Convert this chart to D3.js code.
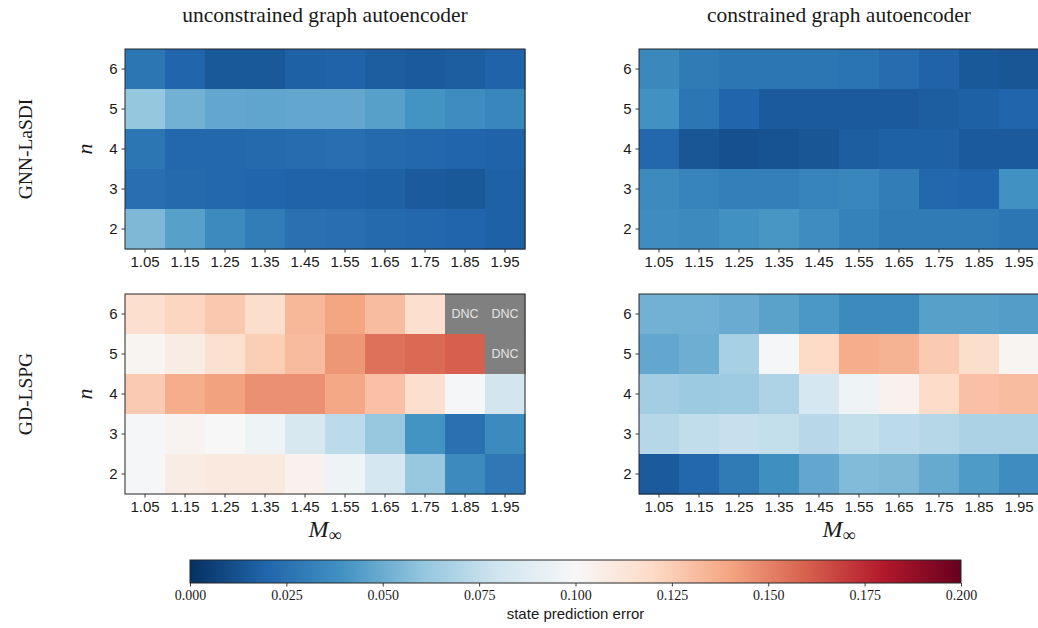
<!DOCTYPE html>
<html>
<head>
<meta charset="utf-8">
<script src="https://cdn.jsdelivr.net/npm/d3@7/dist/d3.min.js"></script>
<style>
  html, body { margin: 0; padding: 0; background: #fff; }
  svg { display: block; }
</style>
</head>
<body>
<svg id="chart" width="1038" height="628"></svg>
<script>
// Free-stream Mach numbers (columns) and polytropic index n (rows, top to bottom)
const machValues = ["1.05", "1.15", "1.25", "1.35", "1.45", "1.55", "1.65", "1.75", "1.85", "1.95"];
const nValues = [6, 5, 4, 3, 2];

// State prediction error, rows ordered n = 6, 5, 4, 3, 2; null = did not converge
const gnnUnconstrained = [
  [0.027, 0.020, 0.015, 0.015, 0.018, 0.019, 0.017, 0.016, 0.017, 0.019],
  [0.061, 0.052, 0.048, 0.047, 0.048, 0.048, 0.045, 0.040, 0.037, 0.034],
  [0.027, 0.021, 0.021, 0.022, 0.023, 0.024, 0.022, 0.021, 0.020, 0.019],
  [0.024, 0.022, 0.021, 0.020, 0.019, 0.019, 0.018, 0.016, 0.015, 0.018],
  [0.055, 0.045, 0.036, 0.030, 0.025, 0.024, 0.022, 0.021, 0.020, 0.018]
];
const gnnConstrained = [
  [0.035, 0.029, 0.027, 0.027, 0.027, 0.026, 0.023, 0.019, 0.015, 0.014],
  [0.039, 0.027, 0.020, 0.016, 0.016, 0.016, 0.016, 0.017, 0.018, 0.020],
  [0.021, 0.014, 0.012, 0.013, 0.014, 0.017, 0.018, 0.018, 0.016, 0.016],
  [0.036, 0.033, 0.031, 0.031, 0.033, 0.034, 0.030, 0.021, 0.020, 0.039],
  [0.037, 0.036, 0.039, 0.041, 0.037, 0.032, 0.029, 0.029, 0.029, 0.027]
];
const gdUnconstrained = [
  [0.117, 0.122, 0.127, 0.118, 0.133, 0.140, 0.131, 0.117, null, null],
  [0.102, 0.108, 0.116, 0.125, 0.132, 0.144, 0.155, 0.157, 0.160, null],
  [0.126, 0.137, 0.141, 0.146, 0.146, 0.139, 0.130, 0.117, 0.099, 0.081],
  [0.099, 0.103, 0.100, 0.095, 0.083, 0.073, 0.062, 0.040, 0.025, 0.036],
  [0.099, 0.108, 0.110, 0.110, 0.104, 0.095, 0.082, 0.062, 0.036, 0.028]
];
const gdConstrained = [
  [0.052, 0.052, 0.050, 0.046, 0.042, 0.036, 0.036, 0.045, 0.045, 0.044],
  [0.048, 0.051, 0.067, 0.099, 0.120, 0.137, 0.135, 0.126, 0.118, 0.102],
  [0.065, 0.063, 0.064, 0.069, 0.082, 0.095, 0.104, 0.119, 0.130, 0.131],
  [0.071, 0.075, 0.077, 0.076, 0.072, 0.076, 0.073, 0.071, 0.068, 0.068],
  [0.016, 0.021, 0.029, 0.038, 0.048, 0.056, 0.055, 0.049, 0.043, 0.037]
];

const columnTitles = ["unconstrained graph autoencoder", "constrained graph autoencoder"];
const rowTitles = ["GNN-LaSDI", "GD-LSPG"];
const colorbarTicks = [0, 0.025, 0.05, 0.075, 0.1, 0.125, 0.15, 0.175, 0.2];

// Diverging red-blue colormap (reversed), piecewise linear through ColorBrewer stops
const rdbuStops = ["#053061", "#2166ac", "#4393c3", "#92c5de", "#d1e5f0", "#f7f7f7",
                   "#fddbc7", "#f4a582", "#d6604d", "#b2182b", "#67001f"];
const vmin = 0, vmax = 0.2;
const color = d3.scaleLinear()
  .domain(d3.range(rdbuStops.length).map(i => vmin + (vmax - vmin) * i / (rdbuStops.length - 1)))
  .range(rdbuStops)
  .interpolate(d3.interpolateRgb)
  .clamp(true);

const svg = d3.select("#chart");
const sansFont = "'Liberation Sans', Arial, sans-serif";
const serifFont = "'Liberation Serif', 'Times New Roman', serif";

const panelW = 400, panelH = 200;
const panelX = [125, 639];
const panelY = [49, 294];

const panels = [
  { data: gnnUnconstrained, col: 0, row: 0 },
  { data: gnnConstrained, col: 1, row: 0 },
  { data: gdUnconstrained, col: 0, row: 1 },
  { data: gdConstrained, col: 1, row: 1 }
];

panels.forEach(p => {
  const x0 = panelX[p.col], y0 = panelY[p.row];
  const g = svg.append("g").attr("transform", `translate(${x0},${y0})`);
  const x = d3.scaleBand().domain(machValues).range([0, panelW]);
  const y = d3.scaleBand().domain(nValues).range([0, panelH]);

  const cells = [];
  p.data.forEach((row, i) => row.forEach((v, j) => cells.push({ n: nValues[i], m: machValues[j], v })));

  g.selectAll("rect.cell").data(cells).join("rect")
    .attr("class", "cell")
    .attr("x", d => x(d.m))
    .attr("y", d => y(d.n))
    .attr("width", x.bandwidth() + 0.5)
    .attr("height", y.bandwidth() + 0.5)
    .attr("fill", d => d.v === null ? "#808080" : color(d.v));

  g.selectAll("text.dnc").data(cells.filter(d => d.v === null)).join("text")
    .attr("class", "dnc")
    .attr("x", d => x(d.m) + x.bandwidth() / 2)
    .attr("y", d => y(d.n) + y.bandwidth() / 2)
    .attr("text-anchor", "middle")
    .attr("dominant-baseline", "central")
    .attr("font-family", sansFont)
    .attr("font-size", 12.5)
    .attr("fill", "#e4e4e4")
    .text("DNC");

  // frame
  g.append("rect")
    .attr("width", panelW).attr("height", panelH)
    .attr("fill", "none").attr("stroke", "#262626").attr("stroke-width", 1);

  const xAxis = g.append("g").attr("transform", `translate(0,${panelH})`)
    .call(d3.axisBottom(x).tickSize(3.5).tickPadding(4));
  const yAxis = g.append("g")
    .call(d3.axisLeft(y).tickSize(3.5).tickPadding(4));
  [xAxis, yAxis].forEach(a => {
    a.select(".domain").remove();
    a.selectAll("line").attr("stroke", "#262626").attr("stroke-width", 0.9);
    a.selectAll("text").attr("font-family", sansFont).attr("font-size", 15).attr("fill", "#1a1a1a");
  });

  if (p.col === 0) {
    g.append("text")
      .attr("transform", `translate(-33,${panelH / 2}) rotate(-90)`)
      .attr("text-anchor", "middle")
      .attr("font-family", serifFont)
      .attr("font-style", "italic")
      .attr("font-size", 22)
      .attr("fill", "#1a1a1a")
      .text("n");
    g.append("text")
      .attr("transform", `translate(-93,${panelH / 2}) rotate(-90)`)
      .attr("text-anchor", "middle")
      .attr("font-family", serifFont)
      .attr("font-size", 19.5)
      .attr("fill", "#1a1a1a")
      .text(rowTitles[p.row]);
  }
  if (p.row === 0) {
    g.append("text")
      .attr("x", panelW / 2).attr("y", -27)
      .attr("text-anchor", "middle")
      .attr("font-family", serifFont)
      .attr("font-size", 21.5)
      .attr("fill", "#1a1a1a")
      .text(columnTitles[p.col]);
  }
  if (p.row === 1) {
    const lab = g.append("text")
      .attr("x", panelW / 2).attr("y", panelH + 43)
      .attr("text-anchor", "middle")
      .attr("font-family", serifFont)
      .attr("fill", "#1a1a1a");
    lab.append("tspan").attr("font-style", "italic").attr("font-size", 24).text("M");
    lab.append("tspan").attr("font-size", 18).attr("dy", 4).text("∞");
  }
});

// Colorbar
const cbX = 190, cbY = 560, cbW = 771, cbH = 23;
const defs = svg.append("defs");
const grad = defs.append("linearGradient").attr("id", "cbgrad")
  .attr("x1", "0%").attr("x2", "100%").attr("y1", "0%").attr("y2", "0%");
rdbuStops.forEach((c, i) => {
  grad.append("stop").attr("offset", `${100 * i / (rdbuStops.length - 1)}%`).attr("stop-color", c);
});
const cb = svg.append("g").attr("transform", `translate(${cbX},${cbY})`);
cb.append("rect").attr("width", cbW).attr("height", cbH).attr("fill", "url(#cbgrad)");
cb.append("rect").attr("width", cbW).attr("height", cbH)
  .attr("fill", "none").attr("stroke", "#262626").attr("stroke-width", 1);
const cbScale = d3.scaleLinear().domain([vmin, vmax]).range([0, cbW]);
const cbAxis = cb.append("g").attr("transform", `translate(0,${cbH})`)
  .call(d3.axisBottom(cbScale).tickValues(colorbarTicks).tickFormat(d3.format(".3f")).tickSize(3.5).tickPadding(4));
cbAxis.select(".domain").remove();
cbAxis.selectAll("line").attr("stroke", "#262626").attr("stroke-width", 0.9);
cbAxis.selectAll("text").attr("font-family", serifFont).attr("font-size", 14).attr("fill", "#1a1a1a");
cb.append("text")
  .attr("x", cbW / 2).attr("y", cbH + 36)
  .attr("text-anchor", "middle")
  .attr("font-family", sansFont)
  .attr("font-size", 15)
  .attr("fill", "#1a1a1a")
  .text("state prediction error");
</script>
</body>
</html>
